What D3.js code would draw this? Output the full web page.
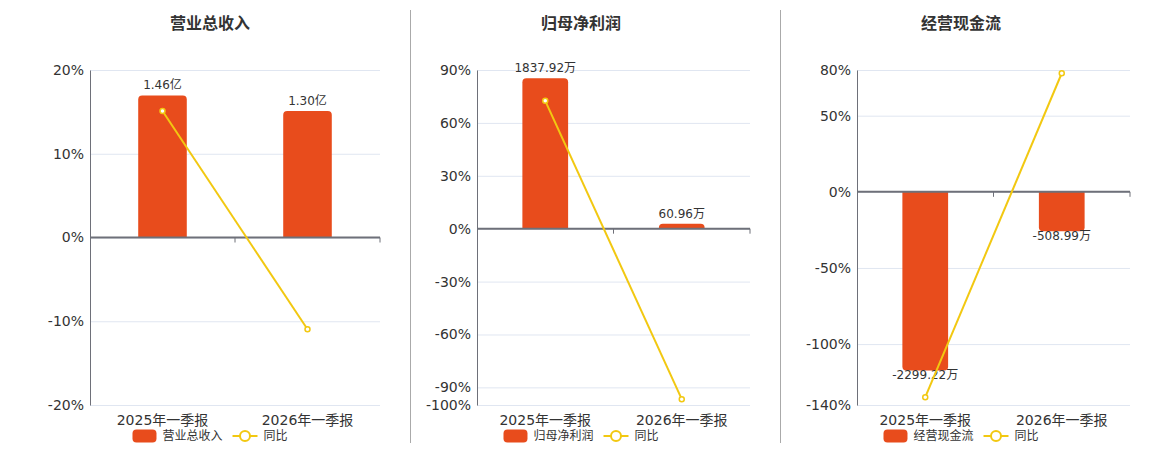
<!DOCTYPE html>
<html>
<head>
<meta charset="utf-8">
<script src="https://cdn.jsdelivr.net/npm/d3@7"></script>
<style>
  body { margin: 0; background: #fff; }
  text { font-family: "DejaVu Sans", "Noto Sans CJK SC", sans-serif; fill: #333; }
  .title { font-family: "Noto Sans CJK SC", sans-serif; font-weight: bold; font-size: 16px; }
  .legend text { font-family: "Noto Sans CJK SC", sans-serif; font-size: 12px; }
</style>
</head>
<body>
<script>
// shared categories
var categories = ['2025年一季报', '2026年一季报'];
var titles = ['营业总收入', '归母净利润', '经营现金流'];

// bar values (amounts) and their labels
var revenue = [1.46, 1.30];              // 亿
var revenueLabels = ['1.46亿', '1.30亿'];
var netProfit = [1837.92, 60.96];        // 万
var netProfitLabels = ['1837.92万', '60.96万'];
var cashFlow = [-2299.22, -508.99];      // 万
var cashFlowLabels = ['-2299.22万', '-508.99万'];

// year over year, %
var revenueYoy = [15.1, -10.96];
var netProfitYoy = [72.5, -96.68];
var cashFlowYoy = [-134.9, 77.86];

// percent axis ticks
var revenueTicks = [20, 10, 0, -10, -20];
var netProfitTicks = [90, 60, 30, 0, -30, -60, -90, -100];
var cashFlowTicks = [80, 50, 0, -50, -100, -140];

// hidden amount axis, aligned with the percent axis
var revenueBarDomain = [-1.722, 1.722];
var netProfitBarDomain = [-2156, 1940];
var cashFlowBarDomain = [-2744, 1568];

var width = 1160, height = 450;
var barColor = '#e84c1c', lineColor = '#f2c811', axisColor = '#6e7079', gridColor = '#e0e6f1';

var panels = [
  {title: titles[0], bars: revenue, labels: revenueLabels, yoy: revenueYoy, ticks: revenueTicks, barDomain: revenueBarDomain,
   left: 90, right: 380, center: 210, sep: null},
  {title: titles[1], bars: netProfit, labels: netProfitLabels, yoy: netProfitYoy, ticks: netProfitTicks, barDomain: netProfitBarDomain,
   left: 477, right: 750, center: 581, sep: 410.5},
  {title: titles[2], bars: cashFlow, labels: cashFlowLabels, yoy: cashFlowYoy, ticks: cashFlowTicks, barDomain: cashFlowBarDomain,
   left: 857, right: 1130, center: 961, sep: 780.5}
];

var plotTop = 70, plotBottom = 405;

var svg = d3.select('body').append('svg')
  .attr('width', width)
  .attr('height', height);

panels.forEach(function(p) {
  var g = svg.append('g');

  if (p.sep) {
    g.append('line')
      .attr('x1', p.sep).attr('x2', p.sep)
      .attr('y1', 10).attr('y2', 443)
      .attr('stroke', '#aaa');
  }

  g.append('text')
    .attr('class', 'title')
    .attr('x', p.center)
    .attr('y', 29)
    .style('text-anchor', 'middle')
    .text(p.title);

  var x = d3.scaleBand()
    .domain(categories)
    .range([p.left, p.right]);

  var y = d3.scaleLinear()
    .domain(d3.extent(p.ticks))
    .range([plotBottom, plotTop]);

  var yBar = d3.scaleLinear()
    .domain(p.barDomain)
    .range([plotBottom, plotTop]);

  // grid
  g.append('g')
    .attr('transform', `translate(${p.left},0)`)
    .call(d3.axisLeft(y).tickValues(p.ticks).tickSize(-(p.right - p.left)).tickFormat(''))
    .call(s => s.select('.domain').remove())
    .selectAll('.tick line')
    .attr('stroke', gridColor);

  // y labels
  g.append('g')
    .attr('transform', `translate(${p.left},0)`)
    .call(d3.axisLeft(y).tickValues(p.ticks).tickSize(0).tickPadding(6).tickFormat(d => d + '%'))
    .call(s => s.select('.domain').attr('stroke', axisColor))
    .selectAll('text')
    .style('font-size', '14px')
    .style('font-family', '"DejaVu Sans", sans-serif')
    .attr('fill', '#333');

  // bars
  var bw = x.bandwidth() * 0.335;
  var r = 4;
  g.selectAll('path.bar')
    .data(p.bars)
    .enter()
    .append('path')
    .attr('class', 'bar')
    .attr('fill', barColor)
    .attr('d', function(d, i) {
      var x0 = x(categories[i]) + (x.bandwidth() - bw) / 2, x1 = x0 + bw;
      var y0 = yBar(0), y1 = yBar(d);
      var s = d >= 0 ? 1 : -1;
      var rr = Math.min(r, Math.abs(y1 - y0));
      return `M${x0},${y0} L${x0},${y1 + s * rr} Q${x0},${y1} ${x0 + rr},${y1} L${x1 - rr},${y1} Q${x1},${y1} ${x1},${y1 + s * rr} L${x1},${y0} Z`;
    });

  // bar labels
  g.selectAll('text.valueLabel')
    .data(p.bars)
    .enter()
    .append('text')
    .attr('class', 'valueLabel')
    .attr('x', (d, i) => x(categories[i]) + x.bandwidth() / 2)
    .attr('y', d => d >= 0 ? yBar(d) - 6 : yBar(d) + 9)
    .style('text-anchor', 'middle')
    .style('font-size', '12px')
    .text((d, i) => p.labels[i]);

  // zero axis
  g.append('line')
    .attr('x1', p.left).attr('x2', p.right)
    .attr('y1', y(0)).attr('y2', y(0))
    .attr('stroke', axisColor)
    .attr('stroke-width', 2);
  g.selectAll('line.xtick')
    .data(categories)
    .enter()
    .append('line')
    .attr('class', 'xtick')
    .attr('x1', d => x(d) + x.bandwidth()).attr('x2', d => x(d) + x.bandwidth())
    .attr('y1', y(0)).attr('y2', y(0) + 5)
    .attr('stroke', axisColor);

  // category labels
  g.selectAll('text.cat')
    .data(categories)
    .enter()
    .append('text')
    .attr('class', 'cat')
    .attr('x', d => x(d) + x.bandwidth() / 2)
    .attr('y', 425)
    .style('text-anchor', 'middle')
    .style('font-size', '14px')
    .text(d => d);

  // yoy line
  var line = d3.line()
    .x((d, i) => x(categories[i]) + x.bandwidth() / 2)
    .y(d => y(d));
  g.append('path')
    .datum(p.yoy)
    .attr('fill', 'none')
    .attr('stroke', lineColor)
    .attr('stroke-width', 2)
    .attr('d', line);
  g.selectAll('circle.pt')
    .data(p.yoy)
    .enter()
    .append('circle')
    .attr('class', 'pt')
    .attr('cx', (d, i) => x(categories[i]) + x.bandwidth() / 2)
    .attr('cy', d => y(d))
    .attr('r', 2.5)
    .attr('fill', '#fff')
    .attr('stroke', lineColor)
    .attr('stroke-width', 1.5);

  // legend
  var lg = g.append('g').attr('class', 'legend');
  var t1 = lg.append('text').attr('x', 30).attr('y', 440).text(p.title);
  var w1 = t1.node().getComputedTextLength();
  var lineX = 30 + w1 + 10;
  var t2 = lg.append('text').attr('x', lineX + 31).attr('y', 440).text('同比');
  var w2 = t2.node().getComputedTextLength();
  lg.append('rect')
    .attr('x', 0).attr('y', 429.5)
    .attr('width', 24).attr('height', 13)
    .attr('rx', 4)
    .attr('fill', barColor);
  lg.append('line')
    .attr('x1', lineX).attr('x2', lineX + 25)
    .attr('y1', 436).attr('y2', 436)
    .attr('stroke', lineColor).attr('stroke-width', 2);
  lg.append('circle')
    .attr('cx', lineX + 12.5).attr('cy', 436).attr('r', 5)
    .attr('fill', '#fff').attr('stroke', lineColor).attr('stroke-width', 2);
  var total = lineX + 31 + w2;
  lg.attr('transform', `translate(${p.center - total / 2},0)`);
});
</script>
</body>
</html>
